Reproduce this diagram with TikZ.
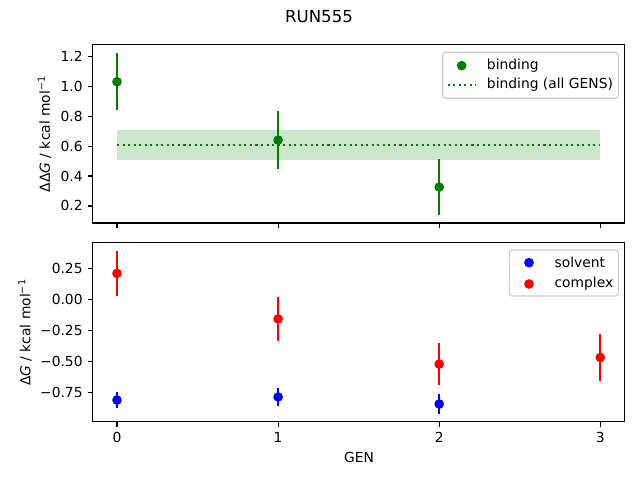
\documentclass[tikz,border=0pt]{standalone}
\usepackage{fontspec}
\setmainfont{DejaVu Sans}
\usepackage{tikz}
\usetikzlibrary{calc}

\definecolor{mplgreen}{RGB}{0,128,0}
\definecolor{mplred}{RGB}{255,0,0}
\definecolor{mplblue}{RGB}{0,0,255}

\tikzset{
    frame/.style={line width=0.8pt},
    tick/.style={line width=0.8pt},
    ticklab/.style={inner sep=0pt},
    errbar/.style={line width=1.5pt},
    legbox/.style={draw=black!20,fill=white,fill opacity=0.8,rounded corners=2pt,line width=0.8pt},
    legtext/.style={anchor=west,inner sep=0pt}
}

\begin{document}
\begin{tikzpicture}[x=0.01in,y=-0.01in]
    \useasboundingbox (0,0) rectangle (640,480);
    \node (title) at (319,17) {\large RUN555};

    % top: binding
    \begin{scope}[shift={(117,235.9)},x=1.61in,y=1.496in]
        \fill[mplgreen,opacity=0.2] (0,0.507) rectangle (3,0.708);
        \draw[mplgreen,line width=1.5pt,dash pattern=on 1.5pt off 2.5pt] (0,0.61) -- (3,0.61);
        \foreach \x/\y/\e in {0/1.03/0.19, 1/0.64/0.195, 2/0.326/0.186} {
            \draw[errbar,mplgreen] (\x,\y-\e) -- (\x,\y+\e);
            \fill[mplgreen] (\x,\y) circle (3.5pt);
        }
        \draw[frame] (-0.15,0.086) rectangle (3.15,1.276);
        \foreach \x in {0,1,2,3}
            \draw[tick] (\x,0.086) -- ++(0,-3.5pt);
        \foreach \v/\t in {0.2/0.2, 0.4/0.4, 0.6/0.6, 0.8/0.8, 1.0/1.0, 1.2/1.2}
            \draw[tick] (-0.15,\v) -- ++(-3.5pt,0)
                node[ticklab,anchor=east,xshift=-3.5pt] {\t};
    \end{scope}
    \node[rotate=90] (ylabtop) at (44.5,134) {ΔΔ\textit{G} / kcal mol\textsuperscript{−1}};

    % legend top
    \draw[legbox] (442.7,52.3) rectangle (618.3,98.3);
    \fill[mplgreen] (461.7,65.7) circle (3.5pt);
    \node[legtext] (legbind) at (486.7,65.7) {binding};
    \coordinate (dotA) at (447.7,84.7);
    \coordinate (dotB) at (475.5,84.7);
    \draw[mplgreen,line width=1.5pt,dash pattern=on 1.5pt off 2.5pt] (dotA) -- (dotB);
    \node[legtext] (legall) at (486.7,84.7) {binding (all GENS)};

    % bottom: solvent and complex
    \begin{scope}[shift={(117,299.3)},x=1.61in,y=1.24in]
        \foreach \x/\y/\e in {0/0.209/0.18, 1/-0.158/0.178, 2/-0.522/0.167, 3/-0.469/0.187} {
            \draw[errbar,mplred] (\x,\y-\e) -- (\x,\y+\e);
            \fill[mplred] (\x,\y) circle (3.5pt);
        }
        \foreach \x/\y/\e in {0/-0.812/0.062, 1/-0.787/0.072, 2/-0.844/0.078} {
            \draw[errbar,mplblue] (\x,\y-\e) -- (\x,\y+\e);
            \fill[mplblue] (\x,\y) circle (3.5pt);
        }
        \draw[frame] (-0.15,-0.988) rectangle (3.15,0.455);
        \foreach \x in {0,1,2,3}
            \draw[tick] (\x,-0.988) -- ++(0,-3.5pt)
                node[ticklab,anchor=north,yshift=-3.5pt] {\x};
        \foreach \v/\t in {0.25/0.25, 0/0.00, -0.25/−0.25, -0.5/−0.50, -0.75/−0.75}
            \draw[tick] (-0.15,\v) -- ++(-3.5pt,0)
                node[ticklab,anchor=east,xshift=-3.5pt] {\t};
    \end{scope}
    \node[rotate=90] (ylabbot) at (25,332.5) {Δ\textit{G} / kcal mol\textsuperscript{−1}};
    \node (xlab) at (359,457) {GEN};

    % legend bottom
    \draw[legbox] (509.3,250) rectangle (618.3,296);
    \fill[mplblue] (529,262.7) circle (3.5pt);
    \node[legtext] (legsolv) at (554.3,262.7) {solvent};
    \fill[mplred] (529,284) circle (3.5pt);
    \node[legtext] (legcplx) at (554.3,284) {complex};
\end{tikzpicture}
\end{document}
